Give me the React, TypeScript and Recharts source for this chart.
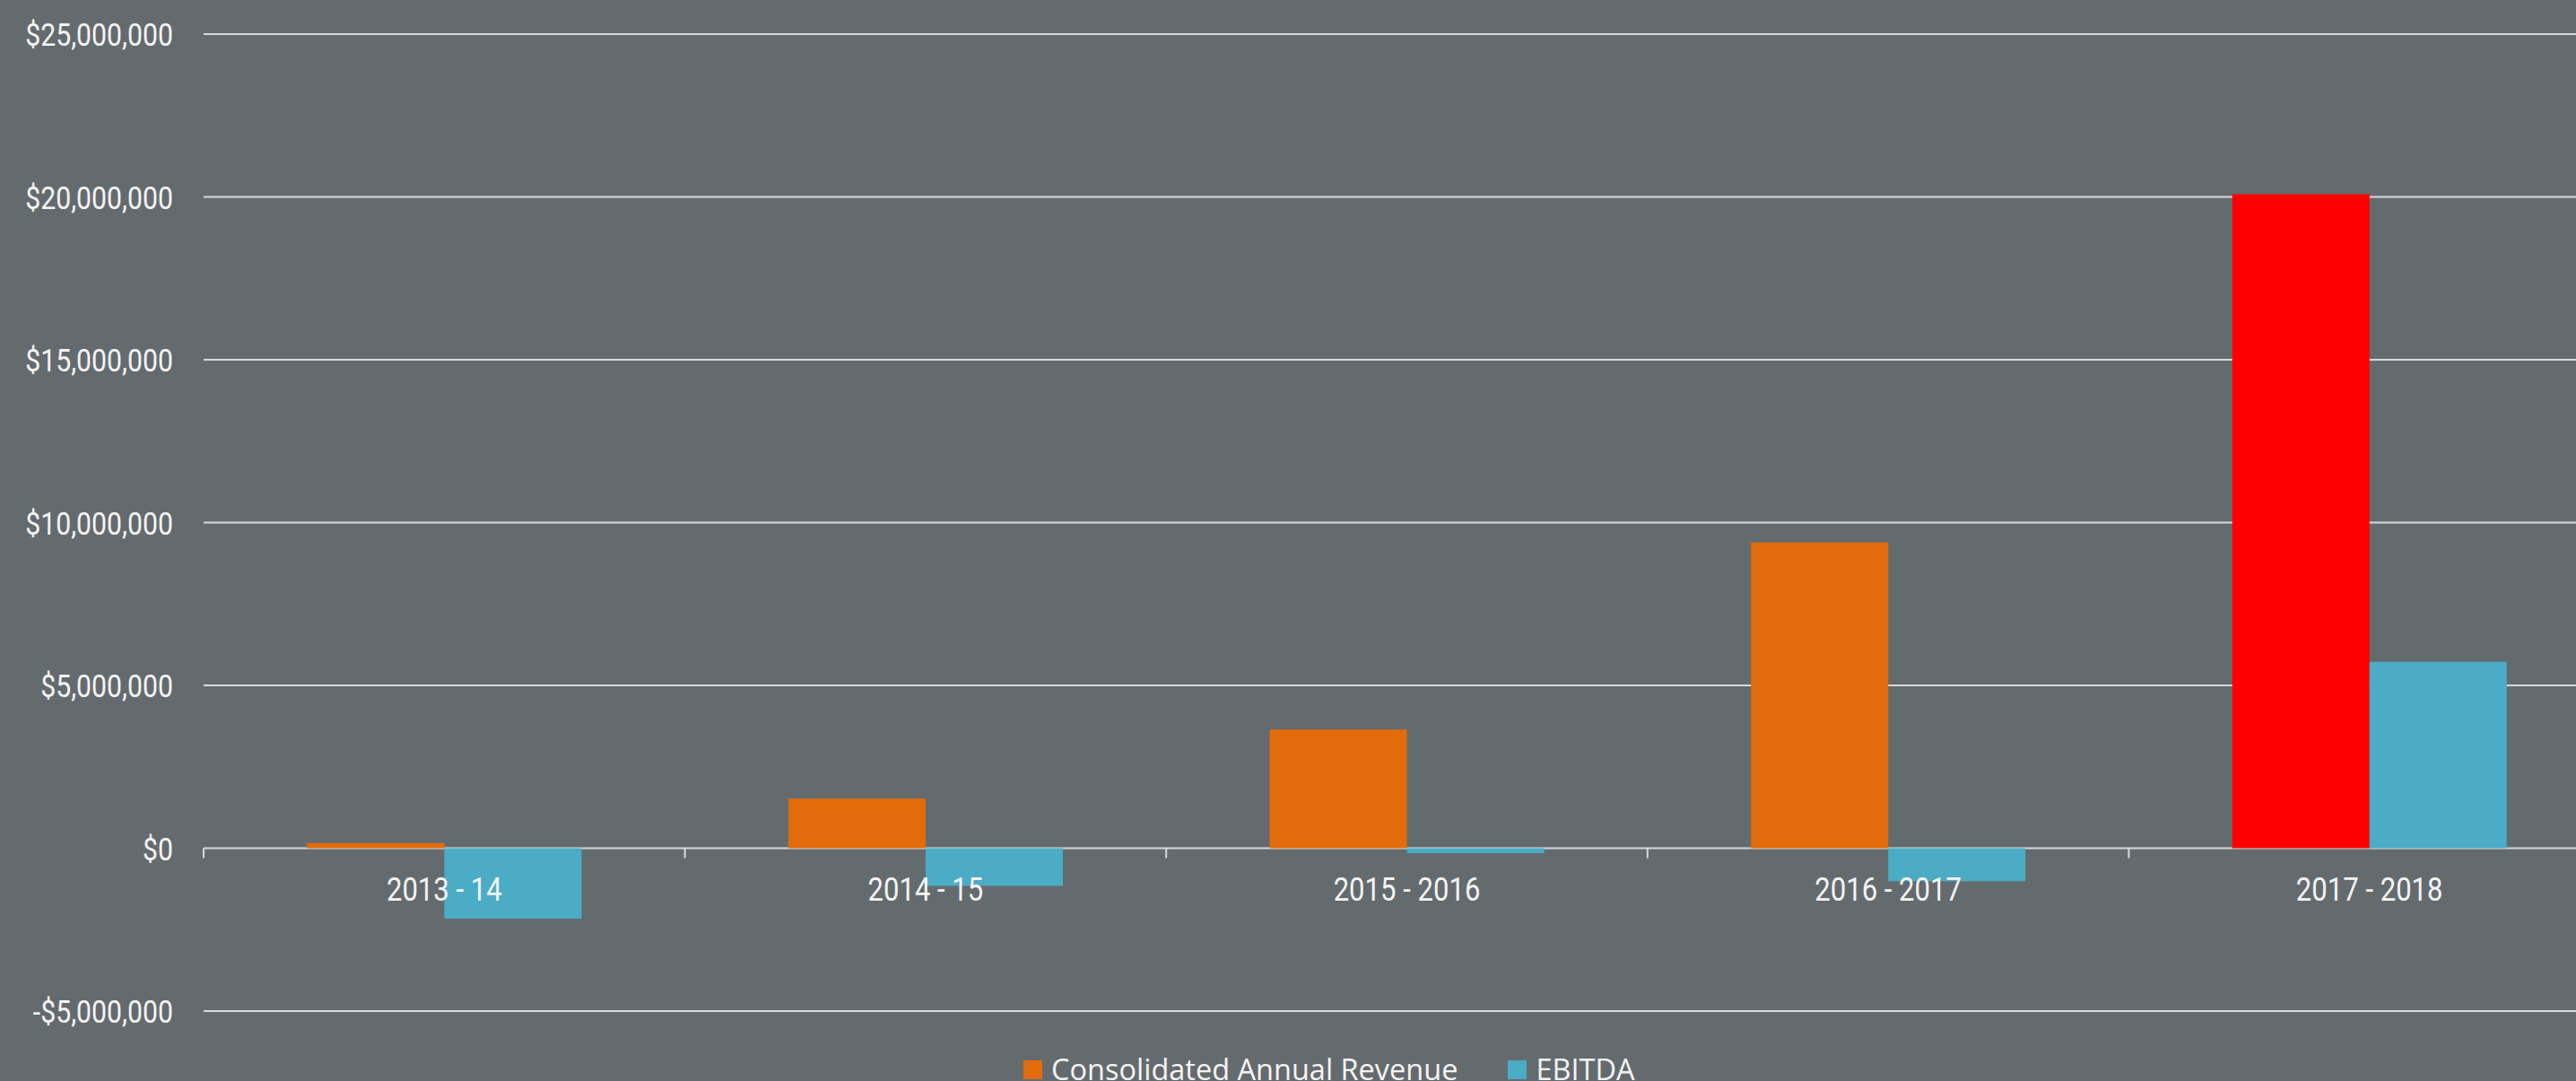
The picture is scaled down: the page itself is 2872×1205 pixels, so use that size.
import { BarChart, Bar, XAxis, YAxis, CartesianGrid, Cell } from 'recharts'

// values
const categories = ['2013 - 14', '2014 - 15', '2015 - 2016', '2016 - 2017', '2017 - 2018']
const revenue = [160000, 1520000, 3640000, 9390000, 20080000]
const ebitda = [-2160000, -1160000, -150000, -1010000, 5720000]
const yTicks = [-5000000, 0, 5000000, 10000000, 15000000, 20000000, 25000000]
const seriesNames = ['Consolidated Annual Revenue', 'EBITDA']
const highlighted = '2017 - 2018'

const BG = '#646b6f'
const ORANGE = '#e36c0a'
const TEAL = '#4bacc6'
const RED = '#ff0000'
const GRID = '#d9d9d9'
const TEXT = '#f4f4f4'
// no narrow font installed, so Roboto squeezed horizontally
const AXIS_FONT = "Roboto, 'Liberation Sans', sans-serif"
const SQUEEZE = 0.84

// chart is wider than the window: the right edge of the plot is cut off like in the picture
const WIDTH = 2910
const HEIGHT = 1205
const X_AXIS_H = 1
const MARGIN = { top: 38, right: 0, bottom: 78 - X_AXIS_H, left: 0 }
const Y_AXIS_W = 227
const Y_MIN = yTicks[0]
const Y_MAX = yTicks[yTicks.length - 1]
const PLOT_H = HEIGHT - MARGIN.top - MARGIN.bottom - X_AXIS_H
const ZERO_FROM_BOTTOM = (PLOT_H * (0 - Y_MIN)) / (Y_MAX - Y_MIN)
const HALF_BAND = (WIDTH - Y_AXIS_W) / categories.length / 2

const data = categories.map((name, i) => ({ name, revenue: revenue[i], ebitda: ebitda[i] }))

const money = (v: number) => (v < 0 ? '-$' : '$') + Math.abs(v).toLocaleString('en-US')

// x labels sit under the zero line, not under the -5M line
const CategoryTick = (props: any) => {
  const { x, y, payload } = props
  const zeroY = y - ZERO_FROM_BOTTOM
  const half = payload && payload.offset ? payload.offset : HALF_BAND
  return (
    <g>
      <line x1={x - half} x2={x - half} y1={zeroY} y2={zeroY + 11} stroke={GRID} strokeWidth={2} />
      <text
        transform={`translate(${x},${zeroY + 58}) scale(${SQUEEZE},1)`}
        textAnchor="middle"
        fill={TEXT}
        fontSize={37}
        fontFamily={AXIS_FONT}
      >
        {payload.value}
      </text>
    </g>
  )
}

const MoneyTick = (props: any) => {
  const { x, y, payload } = props
  return (
    <text
      transform={`translate(${x},${y + 13}) scale(${SQUEEZE},1)`}
      textAnchor="end"
      fill={TEXT}
      fontSize={36}
      fontFamily={AXIS_FONT}
    >
      {money(payload.value)}
    </text>
  )
}

export default function App() {
  return (
    <div
      style={{
        position: 'absolute',
        left: 0,
        top: 0,
        width: 2872,
        height: 1205,
        overflow: 'hidden',
        background: BG,
      }}
    >
      <BarChart
        width={WIDTH}
        height={HEIGHT}
        data={data}
        margin={MARGIN}
        barCategoryGap="21.5%"
        barGap={0}
      >
        <CartesianGrid vertical={false} stroke={GRID} strokeWidth={2} />
        <XAxis
          dataKey="name"
          height={X_AXIS_H}
          tickSize={0}
          tickMargin={0}
          axisLine={false}
          tickLine={false}
          interval={0}
          tick={<CategoryTick />}
        />
        <YAxis
          type="number"
          width={Y_AXIS_W}
          domain={[Y_MIN, Y_MAX]}
          ticks={yTicks}
          interval={0}
          axisLine={false}
          tickLine={false}
          tickSize={0}
          tickMargin={34}
          tick={<MoneyTick />}
        />
        <Bar dataKey="revenue" name={seriesNames[0]} fill={ORANGE} isAnimationActive={false}>
          {data.map((d) => (
            <Cell key={d.name} fill={d.name === highlighted ? RED : ORANGE} />
          ))}
        </Bar>
        <Bar dataKey="ebitda" name={seriesNames[1]} fill={TEAL} isAnimationActive={false} />
      </BarChart>

      <div
        style={{
          position: 'absolute',
          left: 1141,
          top: 1170,
          display: 'flex',
          alignItems: 'center',
          fontFamily: "'Open Sans', 'Noto Sans', sans-serif",
          fontSize: 32.5,
          lineHeight: '44px',
          color: TEXT,
          whiteSpace: 'nowrap',
        }}
      >
        {seriesNames.map((s, i) => (
          <div key={s} style={{ display: 'flex', alignItems: 'center', marginRight: i === 0 ? 56 : 0 }}>
            <span style={{ width: 21, height: 21, background: i === 0 ? ORANGE : TEAL, marginRight: 10 }} />
            <span>{s}</span>
          </div>
        ))}
      </div>
    </div>
  )
}
